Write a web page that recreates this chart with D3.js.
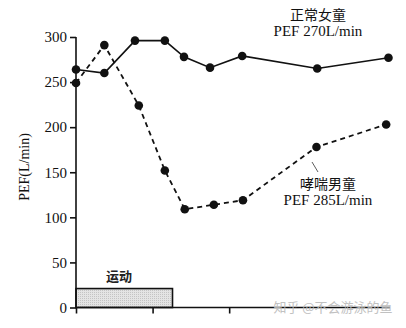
<!DOCTYPE html>
<html><head><meta charset="utf-8">
<script src="https://cdn.jsdelivr.net/npm/d3@7"></script>
<style>body{margin:0;background:#fff}svg{display:block}</style>
</head><body>
<script>
// data (x in minutes, y in L/min)
const girlX = [0, 3.7, 7.7, 11.6, 14.1, 17.5, 21.7, 31.5, 40.8];
const girlY = [264, 260, 296, 296, 278, 266, 279, 265, 277];
const boyX = [0, 3.7, 8.2, 11.6, 14.2, 18.0, 21.8, 31.4, 40.5];
const boyY = [249, 291, 224, 152, 109, 114, 119, 178, 203];
const yTicks = [0, 50, 100, 150, 200, 250, 300];
const xTicks = [0, 10, 20];
const exercise = {start: 0, end: 12.6, level: 21};
const labels = {girl: ["正常女童", "PEF 270L/min"], boy: ["哮喘男童", "PEF 285L/min"], exercise: "运动", yTitle: "PEF(L/min)", watermark: "知乎 @不会游泳的鱼"};

const W = 406, H = 328;
const svg = d3.select("body").append("svg").attr("width", W).attr("height", H);
const x = d3.scaleLinear().domain([0, 41]).range([76, 390]);
const y = d3.scaleLinear().domain([0, 300]).range([307.5, 37]);
const serif = "'Liberation Serif', 'DejaVu Serif', serif";
const cjk = "'Noto Sans CJK SC', sans-serif";

// exercise bar
const pat = svg.append("defs").append("pattern").attr("id", "dots").attr("width", 2).attr("height", 2).attr("patternUnits", "userSpaceOnUse");
pat.append("rect").attr("width", 2).attr("height", 2).attr("fill", "#e4e4e4");
pat.append("rect").attr("width", 1).attr("height", 1).attr("fill", "#c4c4c4");
svg.append("rect").attr("x", x(exercise.start)).attr("y", y(exercise.level))
  .attr("width", x(exercise.end) - x(exercise.start)).attr("height", y(0) - y(exercise.level))
  .attr("fill", "url(#dots)").attr("stroke", "#111").attr("stroke-width", 1.6);
svg.append("text").attr("x", 119).attr("y", 281).attr("text-anchor", "middle")
  .attr("font-family", cjk).attr("font-size", 13).attr("font-weight", "bold").attr("fill", "#222").text(labels.exercise);

// axes
const yAxis = svg.append("g").attr("transform", `translate(${x(0)},0)`)
  .call(d3.axisLeft(y).tickValues(yTicks).tickSize(6).tickPadding(3));
yAxis.select(".domain").attr("d", `M0,${y(300)}V${y(0)}`);
const xAxis = svg.append("g").attr("transform", `translate(0,${y(0)})`)
  .call(d3.axisBottom(x).tickValues(xTicks).tickSize(6).tickFormat(""));
[yAxis, xAxis].forEach(g => {
  g.selectAll("path,line").attr("stroke", "#111").attr("stroke-width", 1.6);
  g.selectAll("text").attr("font-family", serif).attr("font-size", 15).attr("fill", "#111");
});
xAxis.select(".domain").attr("d", `M${x(0)},0H${x(41)}`);

svg.append("text").attr("transform", "translate(29,167) rotate(-90)").attr("text-anchor", "middle")
  .attr("font-family", serif).attr("font-size", 14).attr("fill", "#111").text(labels.yTitle);

// lines
const line = d3.line().x(d => x(d[0])).y(d => y(d[1]));
const girl = girlX.map((v, i) => [v, girlY[i]]);
const boy = boyX.map((v, i) => [v, boyY[i]]);
svg.append("path").attr("d", line(boy)).attr("fill", "none").attr("stroke", "#111")
  .attr("stroke-width", 1.8).attr("stroke-dasharray", "5,4");
svg.append("path").attr("d", line(girl)).attr("fill", "none").attr("stroke", "#111").attr("stroke-width", 1.6);
svg.selectAll(".pb").data(boy).join("circle").attr("cx", d => x(d[0])).attr("cy", d => y(d[1])).attr("r", 4.3).attr("fill", "#111");
svg.selectAll(".pg").data(girl).join("circle").attr("cx", d => x(d[0])).attr("cy", d => y(d[1])).attr("r", 4.3).attr("fill", "#111");

// labels
function twoLine(lines, cx, y1, y2) {
  svg.append("text").attr("x", cx).attr("y", y1).attr("text-anchor", "middle")
    .attr("font-family", cjk).attr("font-size", 14).attr("fill", "#111").text(lines[0]);
  svg.append("text").attr("x", cx).attr("y", y2).attr("text-anchor", "middle")
    .attr("font-family", serif).attr("font-size", 15).attr("fill", "#111").text(lines[1]);
}
twoLine(labels.girl, 318, 20, 36);
twoLine(labels.boy, 328, 189, 205);
svg.append("line").attr("x1", 312).attr("y1", 162).attr("x2", 318).attr("y2", 172).attr("stroke", "#333").attr("stroke-width", 0.8);

// watermark
svg.append("text").attr("x", 333).attr("y", 312).attr("text-anchor", "middle")
  .attr("font-family", cjk).attr("font-size", 13).attr("fill", "#bbb").attr("opacity", 0.9).text(labels.watermark);
</script>
</body></html>
